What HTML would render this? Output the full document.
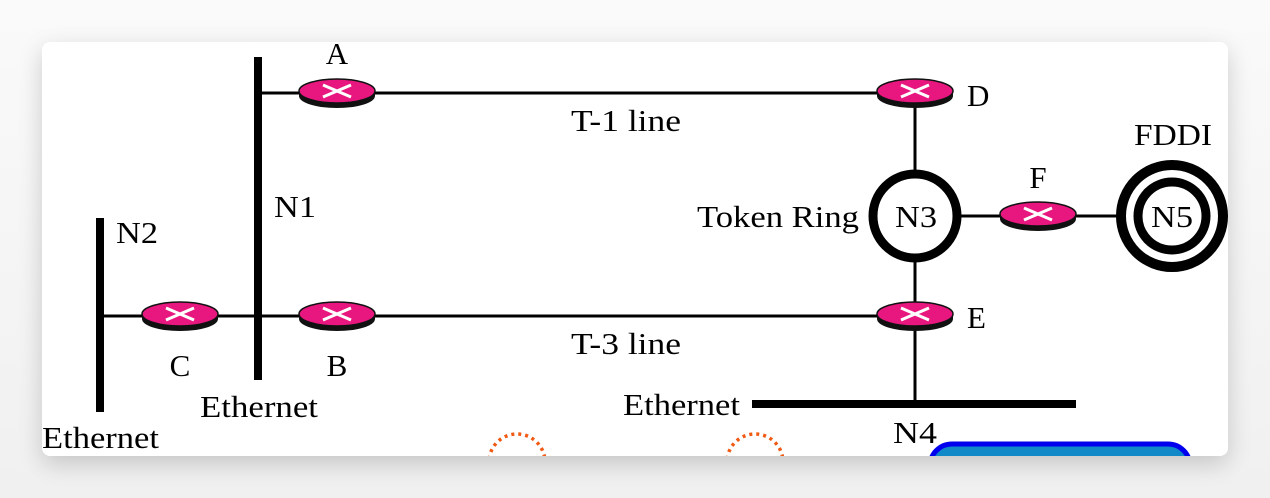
<!DOCTYPE html>
<html><head><style>
html,body{margin:0;padding:0;background:#fff;}
body{width:1270px;height:498px;position:relative;overflow:hidden;background:linear-gradient(#fafafa,#f0f0f0);}
.card{position:absolute;left:42px;top:42px;width:1186px;height:414px;background:#fff;border-radius:8px;box-shadow:0 8px 24px rgba(0,0,0,0.18);overflow:hidden;}
svg text{font-family:"Liberation Serif",serif;font-size:31px;fill:#000;}
</style></head><body>
<div class="card">
<svg width="1186" height="414" viewBox="42 42 1186 414" xmlns="http://www.w3.org/2000/svg">
<defs>
<g id="r">
<ellipse cx="0" cy="5" rx="38" ry="12" fill="#111"/>
<rect x="-38" y="0" width="76" height="5" fill="#111"/>
<ellipse cx="0" cy="0" rx="38" ry="12" fill="#e8177f" stroke="#111" stroke-width="1.5"/>
<path d="M-14,-6 L14,6 M-14,6 L14,-6" stroke="#fff" stroke-width="3"/>
</g>
</defs>
<g stroke="#000" stroke-width="3">
<line x1="258" y1="93" x2="915" y2="93"/>
<line x1="100" y1="316" x2="915" y2="316"/>
<line x1="915" y1="93" x2="915" y2="404"/>
<line x1="915" y1="216" x2="1172" y2="216"/>
</g>
<rect x="254" y="57" width="8" height="323" fill="#000"/>
<rect x="96" y="218" width="8" height="194" fill="#000"/>
<rect x="752" y="400" width="324" height="8" fill="#000"/>
<circle cx="915" cy="216" r="42" fill="#fff" stroke="#000" stroke-width="9"/>
<circle cx="1172" cy="216" r="51" fill="#fff" stroke="#000" stroke-width="10"/>
<circle cx="1172" cy="216" r="34" fill="#fff" stroke="#000" stroke-width="9"/>
<use href="#r" x="337" y="91"/>
<use href="#r" x="915" y="91"/>
<use href="#r" x="180" y="314"/>
<use href="#r" x="337" y="314"/>
<use href="#r" x="915" y="314"/>
<use href="#r" x="1038" y="214"/>
<text x="337" y="64" text-anchor="middle">A</text>
<text x="967" y="106" textLength="24">D</text>
<text x="1038" y="188" text-anchor="middle">F</text>
<text x="1134" y="145" textLength="78" lengthAdjust="spacingAndGlyphs">FDDI</text>
<text x="895" y="227" textLength="42" lengthAdjust="spacingAndGlyphs">N3</text>
<text x="1151" y="227" textLength="42" lengthAdjust="spacingAndGlyphs">N5</text>
<text x="697" y="227" textLength="162" lengthAdjust="spacingAndGlyphs">Token Ring</text>
<text x="571" y="131" textLength="110" lengthAdjust="spacingAndGlyphs">T-1 line</text>
<text x="571" y="354" textLength="110" lengthAdjust="spacingAndGlyphs">T-3 line</text>
<text x="274" y="217" textLength="42" lengthAdjust="spacingAndGlyphs">N1</text>
<text x="116" y="243" textLength="42" lengthAdjust="spacingAndGlyphs">N2</text>
<text x="180" y="376" text-anchor="middle">C</text>
<text x="337" y="376" text-anchor="middle">B</text>
<text x="967" y="328">E</text>
<text x="200" y="417" textLength="118" lengthAdjust="spacingAndGlyphs">Ethernet</text>
<text x="42" y="448" textLength="117" lengthAdjust="spacingAndGlyphs">Ethernet</text>
<text x="623" y="415" textLength="117" lengthAdjust="spacingAndGlyphs">Ethernet</text>
<text x="893" y="443" textLength="44" lengthAdjust="spacingAndGlyphs">N4</text>
<circle cx="517" cy="462" r="28" fill="none" stroke="#f05a14" stroke-width="3.5" stroke-dasharray="3 4"/>
<circle cx="755" cy="462" r="28" fill="none" stroke="#f05a14" stroke-width="3.5" stroke-dasharray="3 4"/>
<rect x="930" y="444" width="260" height="60" rx="22" fill="#1188c8" stroke="#0000ee" stroke-width="5"/>
</svg>
</div>
</body></html>
